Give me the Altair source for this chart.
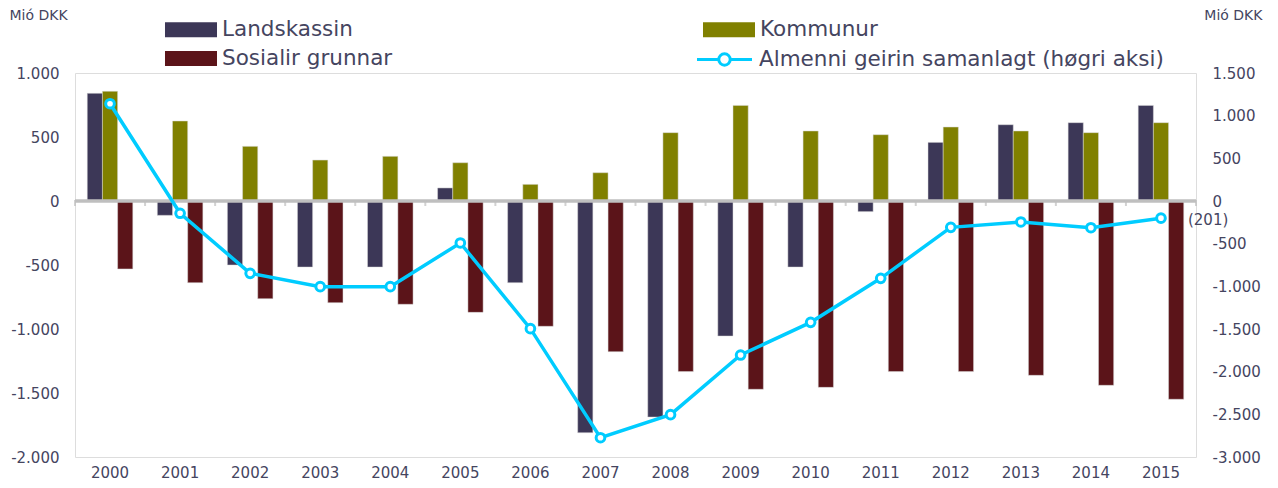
import altair as alt
import pandas as pd

years = ["2000", "2001", "2002", "2003", "2004", "2005", "2006", "2007",
         "2008", "2009", "2010", "2011", "2012", "2013", "2014", "2015"]
landskassin = [841, -112, -500, -516, -516, 102, -638, -1810, -1688, -1055, -516, -83, 458, 596, 612, 747]
kommunur = [857, 625, 427, 320, 349, 299, 130, 221, 534, 747, 547, 518, 578, 547, 534, 612]
sosialir = [-531, -638, -763, -794, -807, -870, -979, -1177, -1333, -1471, -1456, -1333, -1333, -1362, -1440, -1549]
samanlagt = [1140, -144, -848, -1004, -1004, -492, -1496, -2774, -2504, -1805, -1422, -906, -309, -246, -313, -201]
point_labels = ["", "", "", "", "", "", "", "", "", "", "", "", "", "", "", "(201)"]
left_ticks = [-2000, -1500, -1000, -500, 0, 500, 1000]
right_ticks = [-3000, -2500, -2000, -1500, -1000, -500, 0, 500, 1000, 1500]

S_L, S_K, S_S = "Landskassin", "Kommunur", "Sosialir grunnar"
S_A = "Almenni geirin samanlagt (høgri aksi)"
bar_series = [S_L, S_K, S_S]
bar_colors = ["#3C3757", "#808000", "#5B1419"]
CYAN = "#00CCFF"
GRAY = "#BFBFBF"
TEXT = "#45455F"
FONT = "DejaVu Sans"

rows = []
for name, vals in zip(bar_series, [landskassin, kommunur, sosialir]):
    for y, v in zip(years, vals):
        rows.append({"year": y, "series": name, "value": v})
bars_df = pd.DataFrame(rows)
line_df = pd.DataFrame({"year": years, "value": samanlagt, "series": S_A, "label": point_labels})
base_df = pd.DataFrame({"base": [0]})
bound_df = pd.DataFrame({"b": list(range(len(years) + 1))})

fmt = "replace(replace(format(datum.value, ','), ',', '.'), '\u2212', '-')"
yleft = alt.Scale(domain=[-2000, 1000], nice=False)
yright = alt.Scale(domain=[-3000, 1500], nice=False)
xband = alt.Scale(type="band", domain=years, paddingInner=0.35, paddingOuter=0.175)
xpoint = alt.Scale(type="point", domain=years, padding=0.5)

bar_path = "M-2.364,-0.682L2.364,-0.682L2.364,0.682L-2.364,0.682Z"
line_path = ("M-2.5,0L-0.52,0M0.52,0L2.5,0M0.52,0A0.52,0.52,0,1,1,-0.52,0"
             "A0.52,0.52,0,1,1,0.52,0Z")

bars = alt.Chart(bars_df).mark_bar(stroke="#d9d9d9", strokeWidth=0.5).encode(
    x=alt.X("year:N", scale=xband,
            axis=alt.Axis(title=None, domain=False, ticks=False, labelAngle=0,
                          labelPadding=8, labelFontSize=15, labelColor=TEXT, labelFont=FONT)),
    xOffset=alt.XOffset("series:N", sort=bar_series,
                        scale=alt.Scale(domain=bar_series, paddingInner=0, paddingOuter=0)),
    y=alt.Y("value:Q", scale=yleft,
            axis=alt.Axis(values=left_ticks, labelExpr=fmt, grid=False, domain=False, ticks=False,
                          labelPadding=16, labelFontSize=15, labelColor=TEXT, labelFont=FONT,
                          title="Mió DKK", titleAngle=0, titleX=-66, titleY=-58,
                          titleAlign="left", titleBaseline="middle", titleFontSize=14,
                          titleFontWeight="normal", titleColor=TEXT, titleFont=FONT)),
    color=alt.Color("series:N", scale=alt.Scale(domain=bar_series, range=bar_colors),
                    legend=alt.Legend(title=None, orient="none", legendX=105, legendY=-54.5,
                                      direction="horizontal",
                                      columns=2, columnPadding=309, rowPadding=7,
                                      symbolType=bar_path, symbolSize=484, symbolStrokeWidth=0,
                                      symbolOpacity=1, labelFontSize=21.5, labelFont=FONT,
                                      labelColor=TEXT, labelOffset=20, labelLimit=600)),
)

zero = alt.Chart(base_df).mark_rule(color=GRAY, strokeWidth=3.5).encode(
    y=alt.Y("base:Q", scale=yleft, axis=None)
)

ticks = alt.Chart(bound_df).mark_tick(color=GRAY, thickness=2, size=6, yOffset=2,
                                      orient="vertical").encode(
    x=alt.X("b:Q", scale=alt.Scale(domain=[0, len(years)], nice=False, zero=False), axis=None),
    y=alt.YDatum(0, scale=yleft, axis=None),
)

line = alt.Chart(line_df).mark_line(
    strokeWidth=3.5,
    point=alt.OverlayMarkDef(filled=False, fill="white", size=75, strokeWidth=3),
).encode(
    x=alt.X("year:N", scale=xpoint, axis=None),
    y=alt.Y("value:Q", scale=yright,
            axis=alt.Axis(orient="right", values=right_ticks, labelExpr=fmt, grid=False,
                          domain=False, ticks=False, labelPadding=16, labelFontSize=15,
                          labelColor=TEXT, labelFont=FONT,
                          title="Mió DKK", titleAngle=0, titleX=66, titleY=-58,
                          titleAlign="right", titleBaseline="middle", titleFontSize=14,
                          titleFontWeight="normal", titleColor=TEXT, titleFont=FONT)),
    stroke=alt.Stroke("series:N", scale=alt.Scale(domain=[S_A], range=[CYAN]),
                      legend=alt.Legend(title=None, orient="none", legendX=637, legendY=-26,
                                        symbolType=line_path, symbolSize=484,
                                        symbolStrokeWidth=3, symbolFillColor="white",
                                        symbolStrokeColor=CYAN, symbolOpacity=1,
                                        labelFontSize=21.5, labelFont=FONT, labelColor=TEXT,
                                        labelOffset=22, labelLimit=600)),
)

label = alt.Chart(line_df).transform_filter("datum.label != ''").mark_text(
    align="left", baseline="middle", dx=27, dy=2, fontSize=15, font=FONT, color=TEXT
).encode(
    x=alt.X("year:N", scale=xpoint, axis=None),
    y=alt.Y("value:Q", scale=yright, axis=None),
    text="label:N",
)

chart = alt.layer(bars, zero, ticks, line, label).resolve_scale(
    x="independent", y="independent", color="independent", stroke="independent"
).properties(
    width=1121, height=384,
    padding={"left": 67, "top": 65, "right": 74, "bottom": 23},
    autosize=alt.AutoSizeParams(type="none"),
).configure_view(strokeWidth=0).configure(font=FONT)

chart.save("out.html", embed_options={"renderer": "svg", "actions": False})
